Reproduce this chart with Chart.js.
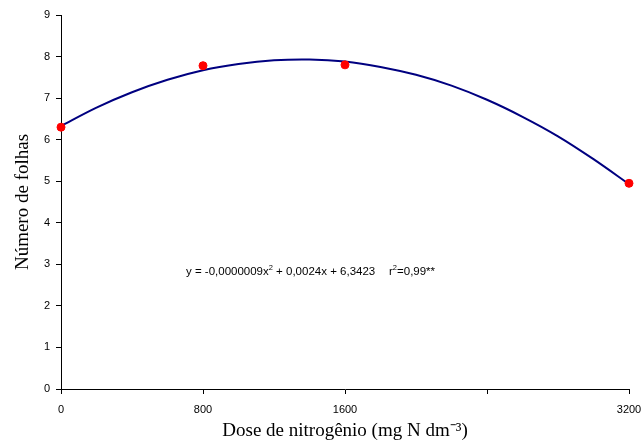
<!DOCTYPE html>
<html>
<head>
<meta charset="utf-8">
<script src="https://cdn.jsdelivr.net/npm/chart.js@4/dist/chart.umd.min.js"></script>
<style>
  html, body { margin: 0; padding: 0; background: #fff; }
  #wrap { width: 644px; height: 444px; }
</style>
</head>
<body>
<div id="wrap"><canvas id="c" width="644" height="444"></canvas></div>
<script>
// Observed points (dose, leaf number)
const doses = [0, 800, 1600, 3200];
const leaves = [6.3, 7.78, 7.8, 4.95];
// Regression curve
const curveDoses = [0, 200, 400, 600, 800, 1000, 1200, 1400, 1600, 1800, 2000, 2200, 2400, 2600, 2800, 3000, 3200];
const curveValues = [6.33, 6.77, 7.14, 7.44, 7.67, 7.82, 7.91, 7.93, 7.88, 7.75, 7.56, 7.30, 6.96, 6.55, 6.08, 5.53, 4.93];
// Tick labels
const xTickValues = [0, 800, 1600, 2400, 3200];
const xTickLabels = ['0', '800', '1600', '', '3200'];
const yTickLabels = ['0','1','2','3','4','5','6','7','8','9'];
// Texts
const xTitle = 'Dose de nitrogênio (mg N dm\u207B\u00B3)';
const yTitle = 'Número de folhas';
const eqParts = [['y = -0,0000009x', false], ['2', true], [' + 0,0024x + 6,3423', false]];
const r2Parts = [['r', false], ['2', true], ['=0,99**', false]];

const eqPlugin = {
  id: 'eqText',
  afterDatasetsDraw(chart, args, opts) {
    const ctx = chart.ctx;
    const xs = chart.scales.x, ys = chart.scales.y;
    function drawParts(parts, x, y) {
      for (const [t, sup] of parts) {
        ctx.font = sup ? '7.5px "Liberation Sans", Arial, sans-serif' : '11.5px "Liberation Sans", Arial, sans-serif';
        ctx.fillText(t, x, sup ? y - 5 : y);
        x += ctx.measureText(t).width;
      }
    }
    ctx.save();
    ctx.fillStyle = '#000';
    ctx.textBaseline = 'alphabetic';
    ctx.textAlign = 'left';
    drawParts(eqParts, xs.getPixelForValue(opts.eqX), ys.getPixelForValue(opts.eqY));
    drawParts(r2Parts, xs.getPixelForValue(opts.r2X), ys.getPixelForValue(opts.eqY));
    ctx.restore();
  }
};

new Chart(document.getElementById('c'), {
  type: 'scatter',
  data: {
    datasets: [
      {
        type: 'line',
        data: curveDoses.map((d, i) => ({x: d, y: curveValues[i]})),
        borderColor: '#000080',
        borderWidth: 2,
        pointRadius: 0,
        tension: 0.3,
        fill: false,
        clip: false,
        order: 2
      },
      {
        data: doses.map((d, i) => ({x: d, y: leaves[i]})),
        backgroundColor: '#ff0000',
        borderColor: '#ff0000',
        pointRadius: 4,
        pointHoverRadius: 4,
        clip: false,
        order: 1
      }
    ]
  },
  options: {
    responsive: false,
    animation: false,
    events: [],
    layout: { padding: { left: 0, right: 15, top: 15, bottom: 0 } },
    plugins: {
      legend: { display: false },
      tooltip: { enabled: false },
      eqText: { eqX: 704, eqY: 2.74, r2X: 1848 }
    },
    scales: {
      x: {
        type: 'linear',
        min: 0, max: 3200,
        afterBuildTicks(scale) { scale.ticks = xTickValues.map(v => ({value: v})); },
        ticks: {
          color: '#000',
          font: { family: '"Liberation Sans", Arial, sans-serif', size: 11 },
          padding: 9,
          maxRotation: 0,
          autoSkip: false,
          callback(v) { const i = xTickValues.indexOf(v); return i >= 0 ? xTickLabels[i] : ''; }
        },
        grid: { display: true, drawOnChartArea: false, drawTicks: true, tickLength: 5, color: '#000', lineWidth: 1 },
        border: { display: true, color: '#000', width: 1 },
        title: {
          display: true,
          text: xTitle,
          color: '#000',
          font: { family: '"Liberation Serif", "Times New Roman", serif', size: 19 },
          padding: { top: 0, bottom: 2 }
        },
        afterFit(scale) { scale.height = 55; scale.paddingLeft = 0; scale.paddingRight = 0; }
      },
      y: {
        min: 0, max: 9,
        ticks: {
          stepSize: 1,
          color: '#000',
          font: { family: '"Liberation Sans", Arial, sans-serif', size: 11 },
          padding: 6,
          callback(v) { return yTickLabels[v] !== undefined ? yTickLabels[v] : ''; }
        },
        grid: { display: true, drawOnChartArea: false, drawTicks: true, tickLength: 5, color: '#000', lineWidth: 1 },
        border: { display: true, color: '#000', width: 1 },
        title: {
          display: true,
          text: yTitle,
          color: '#000',
          font: { family: '"Liberation Serif", "Times New Roman", serif', size: 19 },
          padding: { top: 12, bottom: 0 }
        },
        afterFit(scale) { scale.width = 61; scale.paddingTop = 0; scale.paddingBottom = 0; }
      }
    }
  },
  plugins: [eqPlugin]
});
</script>
</body>
</html>
